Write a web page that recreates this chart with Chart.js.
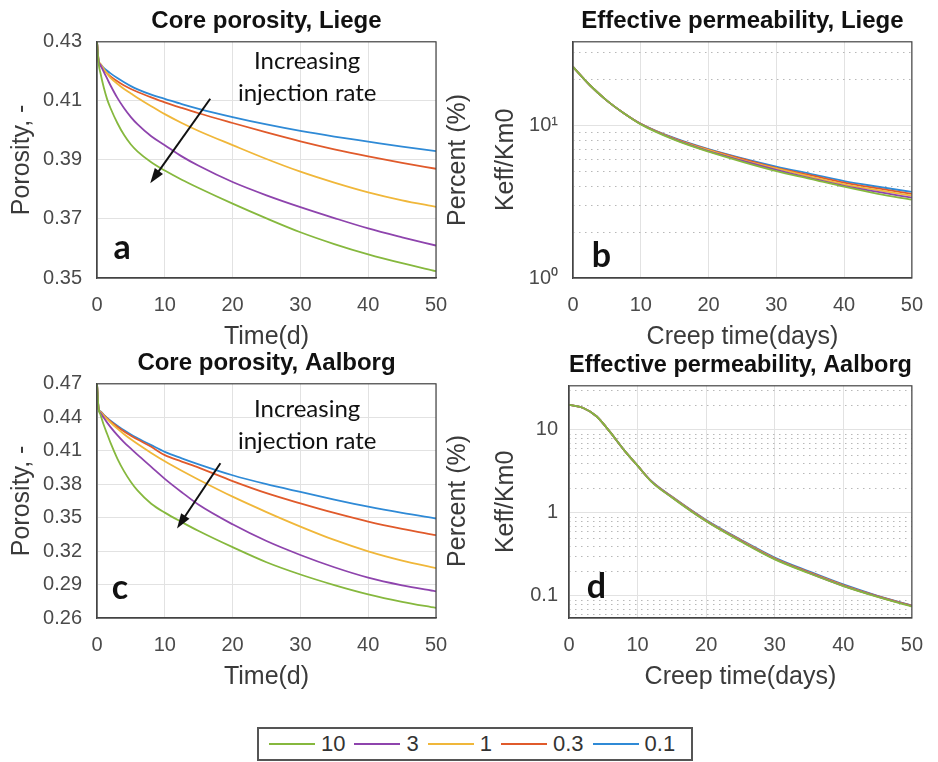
<!DOCTYPE html>
<html>
<head>
<meta charset="utf-8">
<script src="https://cdn.jsdelivr.net/npm/chart.js@4.4.1/dist/chart.umd.min.js"></script>
<style>
    body { margin: 0; background: #fff; }
    #quadro { position: relative; width: 938px; height: 762px; overflow: hidden; }
    #quadro canvas { position: absolute; }
    #legenda {
        position: absolute; left: 257px; top: 727px; width: 422px; height: 30px;
        border: 2px solid #555; padding-left: 10px;
        display: flex; align-items: center;
        font: 22px "Liberation Sans", Arial, sans-serif; color: #333;
    }
    .item { display: flex; align-items: center; margin-right: 9px; }
    .linha { width: 46px; height: 2px; margin-right: 6px; }
</style>
</head>
<body>
<div id="quadro">
    <canvas id="graf-a" width="480" height="352" style="left:0;top:0"></canvas>
    <canvas id="graf-b" width="458" height="352" style="left:480px;top:0"></canvas>
    <canvas id="graf-c" width="480" height="350" style="left:0;top:342px"></canvas>
    <canvas id="graf-d" width="458" height="348" style="left:480px;top:344px"></canvas>
    <div id="legenda"></div>
</div>
<script>
// taxas de injecao (ordem da legenda) e cores
const rates = ['10', '3', '1', '0.3', '0.1'];
const rateColors = ['#86b83e', '#8e44ad', '#f0b73a', '#e05a2b', '#2f8ad6'];

const timeTicks = [0, 10, 20, 30, 40, 50];

// porosidade - dias
const timeDays = [0, 0.25, 0.5, 1, 1.5, 2, 3, 4, 5, 6, 8, 10, 12.5, 15, 20, 25, 30, 35, 40, 45, 50];

// Liege
const liegePor10 = [0.430, 0.4225, 0.4195, 0.4145, 0.4105, 0.4075, 0.4025, 0.3984, 0.3952, 0.3928, 0.3892, 0.3864, 0.3833, 0.3805, 0.3752, 0.3702, 0.3655, 0.3615, 0.3580, 0.3550, 0.3523];
const liegePor3 = [0.430, 0.4235, 0.4222, 0.4198, 0.4175, 0.4152, 0.4110, 0.4075, 0.4045, 0.4020, 0.3980, 0.3950, 0.3912, 0.3880, 0.3825, 0.3780, 0.3740, 0.3703, 0.3668, 0.3638, 0.3610];
const liegePor1 = [0.430, 0.4237, 0.4226, 0.4208, 0.4192, 0.4178, 0.4158, 0.4140, 0.4125, 0.4110, 0.4082, 0.4055, 0.4025, 0.3998, 0.3950, 0.3903, 0.3860, 0.3823, 0.3790, 0.3763, 0.3741];
const liegePor03 = [0.430, 0.4230, 0.4220, 0.4205, 0.4193, 0.4183, 0.4166, 0.4152, 0.4140, 0.4130, 0.4112, 0.4095, 0.4076, 0.4058, 0.4025, 0.3993, 0.3963, 0.3936, 0.3912, 0.3890, 0.3870];
const liegePor01 = [0.430, 0.4232, 0.4224, 0.4212, 0.4202, 0.4193, 0.4177, 0.4163, 0.4150, 0.4139, 0.4121, 0.4107, 0.4089, 0.4073, 0.4045, 0.4020, 0.3998, 0.3979, 0.3962, 0.3945, 0.3930];
const liegePorTicks = [0.35, 0.37, 0.39, 0.41, 0.43];

// Aalborg
const aalborgPor10 = [0.470, 0.4470, 0.4425, 0.4330, 0.4250, 0.4170, 0.4030, 0.3915, 0.3820, 0.3742, 0.3625, 0.3545, 0.3460, 0.3380, 0.3235, 0.3100, 0.2990, 0.2895, 0.2812, 0.2745, 0.2690];
const aalborgPor3 = [0.470, 0.4468, 0.4440, 0.4395, 0.4352, 0.4312, 0.4240, 0.4175, 0.4118, 0.4062, 0.3955, 0.3848, 0.3728, 0.3615, 0.3440, 0.3290, 0.3165, 0.3055, 0.2962, 0.2893, 0.2839];
const aalborgPor1 = [0.470, 0.4470, 0.4450, 0.4415, 0.4383, 0.4353, 0.4298, 0.4248, 0.4202, 0.4160, 0.4080, 0.4005, 0.3920, 0.3840, 0.3688, 0.3550, 0.3420, 0.3300, 0.3198, 0.3115, 0.3047];
const aalborgPor03 = [0.470, 0.4470, 0.4450, 0.4418, 0.4390, 0.4363, 0.4315, 0.4272, 0.4235, 0.4200, 0.4135, 0.4060, 0.4003, 0.3948, 0.3828, 0.3720, 0.3628, 0.3542, 0.3465, 0.3400, 0.3343];
const aalborgPor01 = [0.470, 0.4472, 0.4453, 0.4422, 0.4395, 0.4370, 0.4325, 0.4283, 0.4245, 0.4212, 0.4150, 0.4090, 0.4032, 0.3978, 0.3880, 0.3800, 0.3730, 0.3662, 0.3598, 0.3542, 0.3492];
const aalborgPorTicks = [0.26, 0.29, 0.32, 0.35, 0.38, 0.41, 0.44, 0.47];

// permeabilidade efetiva
const permDaysLiege = [0, 2.5, 5, 7.5, 10, 15, 20, 25, 30, 35, 40, 45, 50];
const liegePerm10 = [24, 18.2, 14.45, 11.95, 10.1, 8.0, 6.7, 5.75, 5.0, 4.45, 3.95, 3.55, 3.25];
const liegePerm3 = [24, 18.2, 14.45, 11.95, 10.15, 8.05, 6.75, 5.85, 5.1, 4.5, 4.0, 3.65, 3.35];
const liegePerm1 = [24, 18.2, 14.45, 11.95, 10.15, 8.1, 6.85, 5.9, 5.2, 4.6, 4.1, 3.75, 3.45];
const liegePerm03 = [24, 18.2, 14.45, 11.95, 10.2, 8.15, 6.9, 6.0, 5.25, 4.7, 4.2, 3.85, 3.55];
const liegePerm01 = [24, 18.2, 14.45, 11.95, 10.2, 8.2, 6.95, 6.05, 5.35, 4.8, 4.3, 3.95, 3.65];
const liegePermTicks = [1, 10];
const liegePermLabels = ['10⁰', '10¹'];

const permDaysAalborg = [0, 2, 4, 6, 8, 10, 12, 15, 20, 25, 30, 35, 40, 45, 50];
const aalborgPerm10 = [20, 18.5, 14.6, 9.4, 5.75, 3.7, 2.38, 1.53, 0.79, 0.455, 0.275, 0.187, 0.131, 0.097, 0.074];
const aalborgPerm3 = [20, 18.5, 14.6, 9.4, 5.75, 3.7, 2.39, 1.54, 0.795, 0.46, 0.278, 0.189, 0.132, 0.098, 0.075];
const aalborgPerm1 = [20, 18.5, 14.6, 9.4, 5.75, 3.7, 2.4, 1.55, 0.80, 0.465, 0.28, 0.19, 0.133, 0.098, 0.075];
const aalborgPerm03 = [20, 18.5, 14.6, 9.4, 5.75, 3.7, 2.41, 1.56, 0.81, 0.47, 0.284, 0.193, 0.135, 0.099, 0.076];
const aalborgPerm01 = [20, 18.5, 14.6, 9.4, 5.75, 3.71, 2.42, 1.57, 0.82, 0.478, 0.29, 0.197, 0.137, 0.1, 0.076];
const aalborgPermTicks = [0.1, 1, 10];
const aalborgPermLabels = ['0.1', '1', '10'];

document.addEventListener('DOMContentLoaded', function () {

    const fonte = '"Liberation Sans", Arial, sans-serif';
    const corGrade = '#e2e2e2';
    const corEixo = '#444';

    Chart.defaults.font.family = fonte;

    // moldura, grade menor (log), letras, setas e rotulo da direita
    const pluginMoldura = {
        id: 'moldura',
        beforeDatasetsDraw(chart) {
            const y = chart.scales.y;
            if (y.type !== 'logarithmic') return;
            const {left, right} = chart.chartArea;
            const c = chart.ctx;
            c.save();
            c.strokeStyle = '#b8b8b8';
            c.lineWidth = 1;
            c.setLineDash([1.5, 4.5]);
            const e0 = Math.floor(Math.log10(y.min));
            const e1 = Math.ceil(Math.log10(y.max));
            for (let e = e0; e <= e1; e++) {
                for (let k = 2; k <= 9; k++) {
                    const v = k * Math.pow(10, e);
                    if (v <= y.min || v >= y.max) continue;
                    const py = Math.round(y.getPixelForValue(v)) + 0.5;
                    c.beginPath();
                    c.moveTo(left, py);
                    c.lineTo(right, py);
                    c.stroke();
                }
            }
            c.restore();
        },
        afterDatasetsDraw(chart, args, opts) {
            const c = chart.ctx;
            const x = chart.scales.x;
            const y = chart.scales.y;
            const area = chart.chartArea;
            c.save();
            c.strokeStyle = corEixo;
            c.lineWidth = 1.2;
            c.strokeRect(area.left, area.top, area.right - area.left, area.bottom - area.top);

            c.fillStyle = '#111';
            c.textAlign = 'center';
            c.textBaseline = 'middle';
            if (opts.letra) {
                c.font = 'bold 34px Lato, sans-serif';
                c.fillText(opts.letra.texto, x.getPixelForValue(opts.letra.x), y.getPixelForValue(opts.letra.y));
            }
            if (opts.nota) {
                c.font = '24px Lato, sans-serif';
                opts.nota.linhas.forEach((t, i) => {
                    c.fillText(t, x.getPixelForValue(opts.nota.x), y.getPixelForValue(opts.nota.y[i]));
                });
            }
            if (opts.seta) {
                const [ax, ay, bx, by] = opts.seta;
                const x1 = x.getPixelForValue(ax), y1 = y.getPixelForValue(ay);
                const x2 = x.getPixelForValue(bx), y2 = y.getPixelForValue(by);
                const ang = Math.atan2(y2 - y1, x2 - x1);
                c.strokeStyle = '#111';
                c.lineWidth = 2;
                c.beginPath();
                c.moveTo(x1, y1);
                c.lineTo(x2 - 8 * Math.cos(ang), y2 - 8 * Math.sin(ang));
                c.stroke();
                c.beginPath();
                c.moveTo(x2, y2);
                c.lineTo(x2 - 15 * Math.cos(ang) + 5 * Math.sin(ang), y2 - 15 * Math.sin(ang) - 5 * Math.cos(ang));
                c.lineTo(x2 - 15 * Math.cos(ang) - 5 * Math.sin(ang), y2 - 15 * Math.sin(ang) + 5 * Math.cos(ang));
                c.closePath();
                c.fill();
            }
            if (opts.direita) {
                c.translate(chart.width - 22, (area.top + area.bottom) / 2);
                c.rotate(-Math.PI / 2);
                c.fillStyle = '#3a3a3a';
                c.font = '25px ' + fonte;
                c.fillText(opts.direita, 0, 0);
            }
            c.restore();
        }
    };

    function criarGrafico(id, cfg) {

        const ctx = document.getElementById(id).getContext('2d');

        const datasets = cfg.series.map((serie, i) => ({
            label: rates[i],
            data: cfg.dias.map((d, j) => ({x: d, y: serie[j]})),
            borderColor: rateColors[i],
            borderWidth: 1.8,
            pointRadius: 0,
            cubicInterpolationMode: 'monotone',
            fill: false
        }));

        return new Chart(ctx, {
            type: 'line',
            data: { datasets: datasets },
            plugins: [pluginMoldura],
            options: {
                responsive: false,
                animation: false,
                layout: { padding: { right: cfg.direitaLargura } },
                scales: {
                    x: {
                        type: 'linear',
                        min: 0,
                        max: 50,
                        afterBuildTicks: s => { s.ticks = timeTicks.map(v => ({value: v})); },
                        afterFit: s => { s.height = 74; },
                        grid: { color: corGrade, drawTicks: false },
                        border: { color: corEixo, width: 1.2 },
                        ticks: { padding: 15, color: '#4a4a4a', font: { size: 20 } },
                        title: { display: true, text: cfg.xTitulo, padding: 0, color: '#3a3a3a', font: { size: 25 } }
                    },
                    y: {
                        type: cfg.log ? 'logarithmic' : 'linear',
                        min: cfg.yMin,
                        max: cfg.yMax,
                        afterBuildTicks: s => { s.ticks = cfg.yTicks.map(v => ({value: v})); },
                        afterFit: s => { s.width = cfg.yLargura; },
                        grid: { color: corGrade, drawTicks: false },
                        border: { color: corEixo, width: 1.2 },
                        ticks: {
                            padding: cfg.yPad,
                            autoSkip: false,
                            color: '#4a4a4a',
                            font: { size: 20 },
                            callback: (v, i) => cfg.yLabels ? cfg.yLabels[i] : v.toFixed(2)
                        },
                        title: { display: true, text: cfg.yTitulo, padding: cfg.yTituloPad, color: '#3a3a3a', font: { size: 25 } }
                    }
                },
                plugins: {
                    legend: { display: false },
                    tooltip: { enabled: false },
                    title: {
                        display: true,
                        fullSize: false,
                        text: cfg.titulo,
                        color: '#111',
                        font: { size: 24, weight: 'bold' },
                        padding: { top: 7, bottom: 6 }
                    },
                    moldura: cfg.notas
                }
            }
        });
    }

    criarGrafico('graf-a', {
        titulo: 'Core porosity, Liege',
        dias: timeDays,
        series: [liegePor10, liegePor3, liegePor1, liegePor03, liegePor01],
        yMin: 0.35, yMax: 0.43, yTicks: liegePorTicks,
        yLargura: 97, yPad: 15, yTitulo: 'Porosity, -', yTituloPad: 7,
        xTitulo: 'Time(d)', direitaLargura: 44,
        notas: {
            letra: { texto: 'a', x: 3.7, y: 0.3600 },
            nota: { linhas: ['Increasing', 'injection rate'], x: 31, y: [0.4234, 0.4127] },
            seta: [16.7, 0.4107, 7.85, 0.3821],
            direita: 'Percent (%)'
        }
    });

    criarGrafico('graf-b', {
        titulo: 'Effective permeability, Liege',
        dias: permDaysLiege,
        series: [liegePerm10, liegePerm3, liegePerm1, liegePerm03, liegePerm01],
        log: true,
        yMin: 1, yMax: 35, yTicks: liegePermTicks, yLabels: liegePermLabels,
        yLargura: 93, yPad: 15, yTitulo: 'Keff/Km0', yTituloPad: 11,
        xTitulo: 'Creep time(days)', direitaLargura: 18,
        notas: {
            letra: { texto: 'b', x: 4.2, y: 1.40 }
        }
    });

    criarGrafico('graf-c', {
        titulo: 'Core porosity, Aalborg',
        dias: timeDays,
        series: [aalborgPor10, aalborgPor3, aalborgPor1, aalborgPor03, aalborgPor01],
        yMin: 0.26, yMax: 0.47, yTicks: aalborgPorTicks,
        yLargura: 97, yPad: 15, yTitulo: 'Porosity, -', yTituloPad: 7,
        xTitulo: 'Time(d)', direitaLargura: 44,
        notas: {
            letra: { texto: 'c', x: 3.4, y: 0.287 },
            nota: { linhas: ['Increasing', 'injection rate'], x: 31, y: [0.4471, 0.4186] },
            seta: [18.2, 0.3988, 11.8, 0.3403],
            direita: 'Percent (%)'
        }
    });

    criarGrafico('graf-d', {
        titulo: 'Effective permeability, Aalborg',
        dias: permDaysAalborg,
        series: [aalborgPerm10, aalborgPerm3, aalborgPerm1, aalborgPerm03, aalborgPerm01],
        log: true,
        yMin: 0.054, yMax: 34, yTicks: aalborgPermTicks, yLabels: aalborgPermLabels,
        yLargura: 89, yPad: 11, yTitulo: 'Keff/Km0', yTituloPad: 11,
        xTitulo: 'Creep time(days)', direitaLargura: 15,
        notas: {
            letra: { texto: 'd', x: 4, y: 0.128 }
        }
    });

    // legenda compartilhada
    const legenda = document.getElementById('legenda');
    rates.forEach((r, i) => {
        const item = document.createElement('div');
        item.className = 'item';
        const linha = document.createElement('span');
        linha.className = 'linha';
        linha.style.background = rateColors[i];
        const texto = document.createElement('span');
        texto.textContent = r;
        item.appendChild(linha);
        item.appendChild(texto);
        legenda.appendChild(item);
    });

});
</script>
</body>
</html>
